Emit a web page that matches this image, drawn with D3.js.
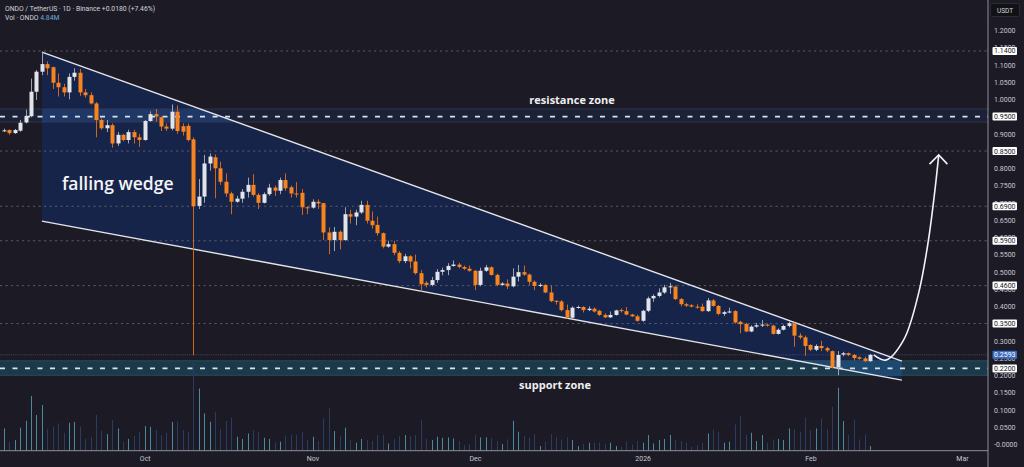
<!DOCTYPE html>
<html>
<head>
<meta charset="utf-8">
<script src="https://cdn.jsdelivr.net/npm/d3@7"></script>
<style>
html, body { margin: 0; padding: 0; background: #1c1b25; overflow: hidden; }
svg { display: block; }
text { font-family: Roboto, "Noto Sans", sans-serif; }
</style>
</head>
<body>
<script>
// ONDO / USDT daily candles, 5 Sep 2025 .. 12 Feb 2026
var firstDay = "2025-09-05"
var lastDay = "2026-02-12"

var opens = [0.908,0.911,0.902,0.909,0.933,0.951,1.022,1.080,1.102,1.093,
  1.048,1.035,1.020,1.065,1.077,1.020,1.012,0.988,0.940,0.916,
  0.925,0.872,0.897,0.882,0.905,0.890,0.882,0.937,0.957,0.948,
  0.921,0.915,0.964,0.922,0.923,0.884,0.691,0.718,0.814,0.832,
  0.800,0.761,0.727,0.703,0.712,0.732,0.752,0.723,0.700,0.725,
  0.744,0.735,0.766,0.745,0.727,0.729,0.687,0.686,0.703,0.699,
  0.614,0.592,0.616,0.592,0.667,0.660,0.672,0.694,0.648,0.636,
  0.612,0.573,0.580,0.555,0.531,0.545,0.530,0.496,0.468,0.462,
  0.476,0.500,0.505,0.517,0.521,0.514,0.509,0.503,0.462,0.503,
  0.513,0.491,0.462,0.466,0.458,0.486,0.499,0.492,0.471,0.459,
  0.462,0.440,0.416,0.414,0.389,0.367,0.396,0.398,0.389,0.393,
  0.387,0.375,0.368,0.375,0.389,0.386,0.376,0.371,0.358,0.387,
  0.423,0.430,0.440,0.455,0.457,0.421,0.406,0.403,0.399,0.399,
  0.386,0.417,0.401,0.378,0.382,0.386,0.355,0.349,0.327,0.341,
  0.344,0.347,0.344,0.320,0.332,0.343,0.350,0.315,0.310,0.288,
  0.274,0.285,0.279,0.270,0.223,0.260,0.264,0.259,0.252,0.249,
  0.241]
var highs = [0.915,0.913,0.914,0.940,0.970,1.060,1.085,1.138,1.110,1.095,
  1.075,1.045,1.075,1.090,1.088,1.030,1.020,0.992,0.945,0.940,
  0.930,0.905,0.900,0.912,0.912,0.900,0.940,0.965,0.972,0.950,
  0.930,0.985,0.982,0.930,0.930,0.890,0.769,0.839,0.843,0.840,
  0.819,0.785,0.732,0.720,0.740,0.773,0.783,0.728,0.730,0.755,
  0.750,0.773,0.785,0.750,0.760,0.740,0.690,0.710,0.710,0.700,
  0.629,0.630,0.620,0.687,0.680,0.680,0.706,0.706,0.675,0.660,
  0.614,0.590,0.590,0.560,0.552,0.548,0.550,0.505,0.473,0.485,
  0.508,0.512,0.525,0.533,0.526,0.518,0.518,0.505,0.512,0.520,
  0.516,0.495,0.470,0.478,0.510,0.520,0.518,0.495,0.475,0.467,
  0.464,0.460,0.417,0.418,0.405,0.400,0.402,0.400,0.400,0.397,
  0.390,0.380,0.385,0.390,0.394,0.398,0.378,0.376,0.390,0.428,
  0.435,0.452,0.462,0.468,0.460,0.424,0.410,0.406,0.406,0.408,
  0.424,0.421,0.404,0.387,0.396,0.389,0.358,0.352,0.345,0.352,
  0.360,0.350,0.347,0.336,0.347,0.356,0.353,0.322,0.315,0.290,
  0.290,0.300,0.283,0.272,0.270,0.268,0.266,0.262,0.255,0.254,
  0.262]
var lows = [0.905,0.897,0.900,0.906,0.930,0.948,0.998,1.070,1.070,1.030,
  1.008,1.008,1.000,1.054,1.010,1.005,0.985,0.890,0.912,0.905,
  0.860,0.865,0.878,0.872,0.872,0.862,0.880,0.935,0.935,0.908,
  0.908,0.910,0.900,0.895,0.878,0.258,0.682,0.700,0.793,0.713,
  0.752,0.717,0.667,0.700,0.700,0.715,0.718,0.682,0.698,0.720,
  0.720,0.725,0.735,0.715,0.715,0.665,0.667,0.683,0.682,0.592,
  0.551,0.560,0.565,0.590,0.640,0.635,0.668,0.640,0.625,0.605,
  0.568,0.570,0.548,0.525,0.525,0.510,0.492,0.443,0.455,0.458,
  0.468,0.490,0.490,0.515,0.510,0.505,0.500,0.447,0.458,0.500,
  0.489,0.458,0.460,0.450,0.455,0.472,0.488,0.462,0.447,0.456,
  0.438,0.412,0.405,0.385,0.365,0.365,0.393,0.382,0.386,0.382,
  0.372,0.366,0.366,0.373,0.382,0.374,0.369,0.355,0.355,0.383,
  0.413,0.426,0.436,0.436,0.418,0.400,0.398,0.397,0.393,0.384,
  0.384,0.399,0.374,0.372,0.380,0.350,0.322,0.325,0.325,0.338,
  0.340,0.341,0.318,0.318,0.330,0.339,0.283,0.305,0.256,0.270,
  0.270,0.270,0.267,0.220,0.200,0.255,0.256,0.243,0.245,0.238,
  0.239]
var closes = [0.910,0.902,0.911,0.932,0.951,1.022,1.080,1.102,1.090,1.048,
  1.035,1.020,1.065,1.077,1.020,1.012,0.988,0.940,0.916,0.925,
  0.872,0.897,0.882,0.905,0.890,0.882,0.937,0.957,0.950,0.921,
  0.915,0.964,0.908,0.906,0.882,0.690,0.718,0.814,0.834,0.800,
  0.761,0.727,0.703,0.712,0.732,0.752,0.723,0.700,0.725,0.744,
  0.735,0.766,0.742,0.727,0.725,0.687,0.685,0.703,0.698,0.614,
  0.592,0.616,0.592,0.667,0.660,0.672,0.694,0.648,0.635,0.612,
  0.573,0.580,0.555,0.531,0.545,0.530,0.496,0.464,0.462,0.476,
  0.500,0.505,0.517,0.521,0.514,0.509,0.503,0.462,0.503,0.513,
  0.491,0.462,0.466,0.458,0.486,0.499,0.492,0.471,0.459,0.462,
  0.440,0.415,0.414,0.389,0.367,0.396,0.398,0.389,0.393,0.385,
  0.375,0.368,0.375,0.388,0.386,0.376,0.371,0.358,0.387,0.423,
  0.430,0.440,0.455,0.458,0.421,0.406,0.402,0.399,0.398,0.386,
  0.417,0.401,0.378,0.383,0.385,0.353,0.348,0.327,0.341,0.345,
  0.347,0.344,0.320,0.332,0.343,0.351,0.315,0.310,0.285,0.274,
  0.285,0.279,0.272,0.223,0.259,0.264,0.259,0.250,0.248,0.241,
  0.2593]
// volume, millions of ONDO
var volumes = [23.0,9.3,11.0,23.7,30.9,56.3,36.8,47.1,22.4,24.7,
  28.1,18.5,28.8,29.6,24.7,12.1,14.4,36.8,20.6,17.2,
  31.6,23.0,9.3,12.1,15.1,19.6,25.4,24.7,21.3,16.2,
  18.5,29.6,29.9,21.3,19.6,92.4,64.2,38.4,29.9,40.2,
  22.4,30.6,34.0,14.4,12.1,17.8,21.3,18.8,13.4,12.1,
  8.5,9.3,15.5,16.2,16.2,19.6,11.0,14.4,10.0,33.3,
  43.6,20.3,15.5,23.7,11.0,8.2,12.1,11.0,10.0,16.2,
  16.2,7.5,12.1,15.1,16.2,15.1,16.2,31.6,12.1,11.0,
  14.4,13.4,13.7,12.7,10.0,5.9,6.9,16.2,13.7,13.7,
  12.7,10.0,6.9,11.6,30.9,19.6,15.1,13.7,17.2,4.8,
  9.3,17.2,14.4,11.6,13.7,11.0,4.8,6.9,8.2,8.2,
  8.2,6.9,8.2,4.8,4.1,9.3,6.5,10.0,8.2,16.2,
  7.5,11.0,12.1,16.2,11.0,10.0,8.2,4.1,5.9,8.2,
  17.8,21.9,19.6,8.2,9.3,27.1,35.7,16.2,18.5,10.0,
  16.2,8.2,11.6,12.1,11.0,23.0,21.9,19.6,34.3,21.3,
  23.0,33.3,22.4,45.3,64.9,30.6,16.2,32.2,11.6,16.8,
  4.84]

var monthTicks = ["2025-10-01","2025-11-01","2025-12-01","2026-01-01","2026-02-01","2026-03-01"]
var monthLabels = ["Oct","Nov","Dec","2026","Feb","Mar"]
var priceTicks = [0,0.05,0.1,0.15,0.2,0.25,0.3,0.35,0.4,0.45,0.5,0.55,0.6,
  0.65,0.7,0.75,0.8,0.85,0.9,0.95,1.0,1.05,1.1,1.15,1.2]
var gridLevels = [1.14, 0.85, 0.69, 0.59, 0.46, 0.35]
var zoneLevels = [0.95, 0.22]
var boxLevels = [1.14, 0.95, 0.85, 0.69, 0.59, 0.46, 0.35, 0.22]
var lastPrice = 0.2593
var resistanceZone = [0.934, 0.972]
var supportZone = [0.200, 0.242]
// drawings, [days after firstDay, price]
var upperLine = [[7, 1.137], [165.9, 0.241]]
var lowerLine = [[7, 0.647], [165.9, 0.186]]
var arrowPath = [[160.7,0.259],[162.9,0.244],[166.2,0.302],[169.0,0.439],[170.8,0.592],[172.0,0.737],[172.7,0.839]]
var arrowHead = [[171.0,0.812],[172.7,0.839],[174.3,0.812]]

function main() {
    var W = 1024, H = 467
    var plotRight = 988, plotBottom = 450.7

    var parse = d3.utcParse("%Y-%m-%d")
    var t0 = parse(firstDay)
    var days = d3.utcDay.range(t0, d3.utcDay.offset(parse(lastDay), 1))
    var candles = days.map(function(d, i) {
        return {date: d, o: opens[i], h: highs[i], l: lows[i], c: closes[i], v: volumes[i]}
    })

    var x = d3.scaleUtc().domain([t0, parse("2026-03-01")]).range([4, 962])
    var y = d3.scaleLinear().domain([0, 1.2]).range([444.3, 30.3])
    var vy = d3.scaleLinear().domain([0, 100]).range([plotBottom, plotBottom - 97])
    function dx(n) { return x(new Date(t0.getTime() + n * 864e5)) }
    // candle centre snapped to the pixel grid
    function cx(d) { return Math.round(x(d.date)) + 0.5 }

    var svg = d3.select("body").append("svg").attr("width", W).attr("height", H)
    svg.append("rect").attr("width", W).attr("height", H).attr("fill", "#1c1b25")

    var wedge = [upperLine[0], upperLine[1], lowerLine[1], lowerLine[0]]
    var wedgeD = "M" + wedge.map(function(p) { return dx(p[0]) + "," + y(p[1]) }).join("L") + "Z"

    var defs = svg.append("defs")
    defs.append("clipPath").attr("id", "plot")
        .append("rect").attr("width", plotRight).attr("height", plotBottom)
    defs.append("clipPath").attr("id", "wedgeClip").append("path").attr("d", wedgeD)
    var g = svg.append("g").attr("clip-path", "url(#plot)")

    // wedge fill
    g.append("path").attr("d", wedgeD).attr("fill", "#172449")

    // zones: plain band, then a brighter copy inside the wedge
    function band(z, fill, inner, edge) {
        var top = y(z[1]), h = y(z[0]) - y(z[1])
        g.append("rect").attr("x", 0).attr("width", plotRight).attr("y", top).attr("height", h)
            .attr("fill", fill)
        g.append("rect").attr("x", 0).attr("width", plotRight).attr("y", top).attr("height", h)
            .attr("fill", inner).attr("clip-path", "url(#wedgeClip)")
        g.selectAll(null).data([top, top + h]).enter().append("line")
            .attr("x1", 0).attr("x2", plotRight).attr("y1", function(d) { return d }).attr("y2", function(d) { return d })
            .attr("stroke", edge).attr("stroke-width", 0.8)
    }
    band(resistanceZone, "#1b2136", "#1f3867", "#363c52")
    band(supportZone, "#1a3a4c", "#1d4870", "#2c5566")

    // horizontal levels
    g.selectAll(".grid").data(gridLevels).enter().append("line")
        .attr("x1", 0).attr("x2", plotRight)
        .attr("y1", function(d) { return y(d) }).attr("y2", function(d) { return y(d) })
        .attr("stroke", "#62626e").attr("stroke-width", 0.9).attr("stroke-dasharray", "2.2,3.3")
    g.selectAll(".zone").data(zoneLevels).enter().append("line")
        .attr("x1", 0).attr("x2", plotRight)
        .attr("y1", function(d) { return y(d) }).attr("y2", function(d) { return y(d) })
        .attr("stroke", "#dde1e8").attr("stroke-width", 1.8).attr("stroke-dasharray", "5,7.5")
    g.append("line").attr("x1", 0).attr("x2", plotRight)
        .attr("y1", y(lastPrice)).attr("y2", y(lastPrice))
        .attr("stroke", "#454b66").attr("stroke-width", 1).attr("stroke-dasharray", "1,1.2")

    // wedge lines
    ;[upperLine, lowerLine].forEach(function(l) {
        g.append("line")
            .attr("x1", dx(l[0][0])).attr("y1", y(l[0][1]))
            .attr("x2", dx(l[1][0])).attr("y2", y(l[1][1]))
            .attr("stroke", "#e4e5ea").attr("stroke-width", 1.4)
    })

    // volume
    g.selectAll(".vol").data(candles).enter().append("rect")
        .attr("x", function(d) { return cx(d) - 0.5 })
        .attr("width", 1)
        .attr("y", function(d) { return vy(d.v) })
        .attr("height", function(d) { return plotBottom - vy(d.v) })
        .attr("fill", function(d) { return d.c >= d.o ? "#4b8a9a" : "#2b3c62" })

    // candles
    var up = function(d) { return d.c >= d.o }
    g.selectAll(".wick").data(candles).enter().append("line")
        .attr("x1", cx).attr("x2", cx)
        .attr("y1", function(d) { return y(d.h) }).attr("y2", function(d) { return y(d.l) })
        .attr("stroke", function(d) { return up(d) ? "#9ea3ad" : "#d0661e" }).attr("stroke-width", 1)
    g.selectAll(".body").data(candles).enter().append("rect")
        .attr("x", function(d) { return cx(d) - 2 })
        .attr("width", 4)
        .attr("y", function(d) { return y(Math.max(d.o, d.c)) })
        .attr("height", function(d) { return Math.max(1, Math.abs(y(d.o) - y(d.c))) })
        .attr("fill", function(d) { return up(d) ? "#e1e4ea" : "#f7841e" })

    // notes
    g.append("text").attr("x", 62).attr("y", 189.5)
        .attr("font-size", "17.5px").attr("font-weight", 600).attr("fill", "#f4f5f8")
        .style("font-family", "'Open Sans', sans-serif").text("falling wedge")
    g.append("text").attr("x", 572).attr("y", 104).attr("text-anchor", "middle")
        .attr("font-size", "11px").attr("font-weight", 700).attr("fill", "#eeeff2")
        .style("font-family", "'Open Sans', sans-serif").text("resistance zone")
    g.append("text").attr("x", 555).attr("y", 389).attr("text-anchor", "middle")
        .attr("font-size", "11px").attr("font-weight", 700).attr("fill", "#eeeff2")
        .style("font-family", "'Open Sans', sans-serif").text("support zone")

    // projected move
    var line = d3.line().x(function(p) { return dx(p[0]) }).y(function(p) { return y(p[1]) })
    g.append("path").attr("d", line.curve(d3.curveCatmullRom)(arrowPath))
        .attr("fill", "none").attr("stroke", "#f2f2f5").attr("stroke-width", 1.6)
    g.append("path").attr("d", line.curve(d3.curveLinear)(arrowHead))
        .attr("fill", "none").attr("stroke", "#f2f2f5").attr("stroke-width", 1.6)

    // axis borders
    svg.append("line").attr("x1", plotRight).attr("x2", plotRight).attr("y1", 0).attr("y2", H)
        .attr("stroke", "#8e9099").attr("stroke-width", 1)
    svg.append("line").attr("x1", 0).attr("x2", plotRight).attr("y1", plotBottom).attr("y2", plotBottom)
        .attr("stroke", "#8e9099").attr("stroke-width", 1)

    // price axis
    var fmt = function(d) { return d === 0 ? "-0.0000" : d3.format(".4f")(d) }
    var ya = svg.append("g").attr("transform", "translate(" + 991 + ",0)")
        .call(d3.axisRight(y).tickValues(priceTicks).tickFormat(fmt).tickSize(0).tickPadding(3))
    ya.select(".domain").remove()
    ya.selectAll("text").attr("fill", "#c5c8d0").attr("font-size", "7px").style("font-family", "Roboto, sans-serif")

    var boxes = svg.selectAll(".pbox").data(boxLevels).enter().append("g")
        .attr("transform", function(d) { return "translate(992.5," + y(d) + ")" })
    boxes.append("rect").attr("x", 0).attr("y", -4).attr("width", 24.5).attr("height", 8)
        .attr("rx", 1).attr("fill", "#ffffff")
    boxes.append("text").attr("x", 12.25).attr("dy", "0.35em").attr("text-anchor", "middle")
        .attr("font-size", "7px").attr("fill", "#131722").text(function(d) { return d3.format(".4f")(d) })
    var lp = svg.append("g").attr("transform", "translate(992.5," + y(lastPrice) + ")")
    lp.append("rect").attr("x", 0).attr("y", -4).attr("width", 24.5).attr("height", 8)
        .attr("rx", 1).attr("fill", "#3a6bbf")
    lp.append("text").attr("x", 12.25).attr("dy", "0.35em").attr("text-anchor", "middle")
        .attr("font-size", "7px").attr("fill", "#ffffff").text(d3.format(".4f")(lastPrice))

    // time axis
    var xa = svg.append("g").attr("transform", "translate(0," + (plotBottom + 3) + ")")
        .call(d3.axisBottom(x).tickValues(monthTicks.map(parse))
            .tickFormat(function(d, i) { return monthLabels[i] }).tickSize(0).tickPadding(2))
    xa.select(".domain").remove()
    xa.selectAll("text").attr("fill", "#c5c8d0").attr("font-size", "7px").style("font-family", "Roboto, sans-serif")

    // currency box
    svg.append("rect").attr("x", 990.5).attr("y", 3.5).attr("width", 29).attr("height", 13)
        .attr("rx", 2).attr("fill", "#111116").attr("stroke", "#2c2c36")
    svg.append("text").attr("x", 1005).attr("y", 12.5).attr("text-anchor", "middle")
        .attr("font-size", "6.5px").attr("fill", "#d1d4dc").text("USDT")

    // legend
    svg.append("text").attr("x", 5).attr("y", 11).attr("font-size", "6.8px").attr("fill", "#d1d4dc")
        .text("ONDO / TetherUS · 1D · Binance  +0.0180 (+7.46%)")
    var vt = svg.append("text").attr("x", 5).attr("y", 20).attr("font-size", "6.8px").attr("fill", "#d1d4dc")
    vt.append("tspan").text("Vol · ONDO  ")
    vt.append("tspan").attr("fill", "#6fa8dc").text("4.84M")
}
main()
</script>
</body>
</html>
